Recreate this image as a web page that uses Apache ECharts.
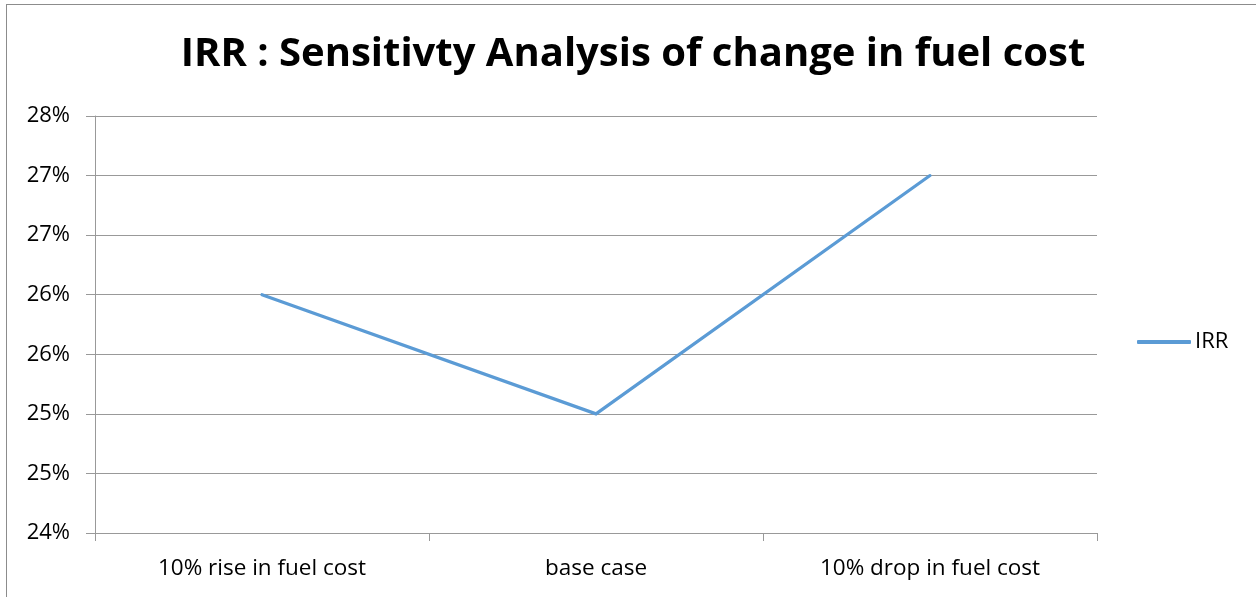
<!DOCTYPE html>
<html>
<head>
<meta charset="utf-8">
<title>IRR : Sensitivty Analysis of change in fuel cost</title>
<script src="https://cdn.jsdelivr.net/npm/echarts@6/dist/echarts.min.js"></script>
<style>
  html, body { margin: 0; padding: 0; background: #fff; }
  #frame { position: absolute; left: 6px; top: 4px; width: 1260px; height: 600px;
           border-top: 1px solid #8c8c8c; border-left: 1px solid #8c8c8c; }
  #chart { position: absolute; left: 0; top: 0; width: 1256px; height: 597px; }
</style>
</head>
<body>
<div id="frame"></div>
<div id="chart"></div>
<script>
// Scenario names along the horizontal axis
const categories = ['10% rise in fuel cost', 'base case', '10% drop in fuel cost'];
// IRR in percent for each scenario
const irrValues = [26, 25, 27];
// Value-axis labels, shown whole-percent rounded, bottom to top
const yTickLabels = ['24%', '25%', '25%', '26%', '26%', '27%', '27%', '28%'];
const seriesName = 'IRR';
const titleText = 'IRR : Sensitivty Analysis of change in fuel cost';

const chart = echarts.init(document.getElementById('chart'));
const font = 'Open Sans, Lato, sans-serif';
const axisGray = '#999999';

chart.setOption({
  animation: false,
  backgroundColor: 'transparent',
  title: {
    text: titleText,
    left: 633,
    textAlign: 'center',
    top: 35,
    padding: 0,
    textStyle: { fontFamily: font, fontWeight: 'bold', fontSize: 40, color: '#000' }
  },
  legend: {
    data: [seriesName],
    left: 1137,
    top: 331,
    padding: 0,
    itemWidth: 54,
    itemHeight: 4,
    itemGap: 4,
    icon: 'roundRect',
    textStyle: { fontFamily: font, fontSize: 22, color: '#000', padding: [0, 0, 0, -1] }
  },
  grid: { left: 95, right: 159, top: 116, bottom: 64, containLabel: false },
  xAxis: {
    type: 'category',
    data: categories,
    boundaryGap: true,
    axisLine: { lineStyle: { color: axisGray, width: 1 } },
    axisTick: { show: true, length: 8, inside: false, lineStyle: { color: axisGray } },
    axisLabel: { margin: 24, fontFamily: font, fontSize: 22.5, color: '#000' },
    splitLine: { show: false }
  },
  yAxis: {
    type: 'value',
    min: 24,
    max: 27.5,
    interval: 0.5,
    axisLine: { show: true, lineStyle: { color: axisGray, width: 1 } },
    axisTick: { show: true, length: 9, lineStyle: { color: axisGray } },
    axisLabel: {
      margin: 25,
      fontFamily: font,
      fontSize: 22,
      color: '#000',
      formatter: function (v, i) { return yTickLabels[i]; }
    },
    splitLine: { show: true, lineStyle: { color: axisGray, width: 1 } }
  },
  series: [{
    name: seriesName,
    type: 'line',
    data: irrValues,
    symbol: 'none',
    lineStyle: { color: '#5B9BD5', width: 3.2, cap: 'round', join: 'miter' },
    itemStyle: { color: '#5B9BD5' }
  }]
});
</script>
</body>
</html>
